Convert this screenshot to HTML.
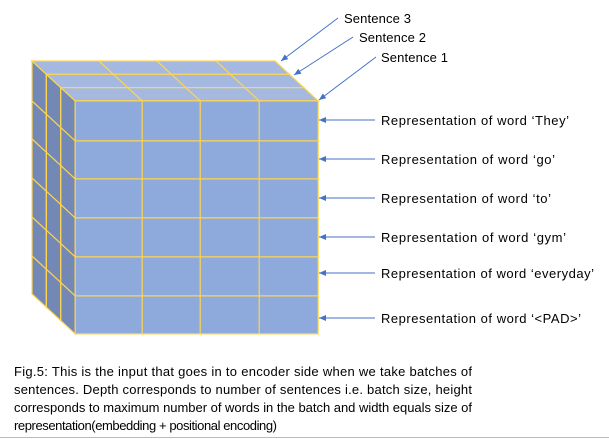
<!DOCTYPE html>
<html><head><meta charset="utf-8"><style>
html,body{margin:0;padding:0;background:#fff;}
svg{display:block;font-family:"Liberation Sans",sans-serif;}
</style></head><body>
<svg id="fig" width="609" height="439" viewBox="0 0 609 439">
<defs><marker id="ah" markerWidth="8" markerHeight="8" refX="7" refY="4" orient="auto" markerUnits="userSpaceOnUse"><path d="M0,1 L7,4 L0,7 z" fill="#4472C4"/></marker></defs>
<g id="cube"></g>
<g id="arrows"></g>
<g font-size="13" fill="#000">
<text x="344" y="23" textLength="67">Sentence 3</text>
<text x="359" y="42" textLength="67">Sentence 2</text>
<text x="381" y="62" textLength="67">Sentence 1</text>
<text x="381" y="125" textLength="188">Representation of word ‘They’</text>
<text x="381" y="164" textLength="174">Representation of word ‘go’</text>
<text x="381" y="203" textLength="170">Representation of word ‘to’</text>
<text x="381" y="242" textLength="185">Representation of word ‘gym’</text>
<text x="381" y="278" textLength="213">Representation of word ‘everyday’</text>
<text x="381" y="323" textLength="200">Representation of word ‘&lt;PAD&gt;’</text>
</g>
<g font-size="13" fill="#000">
<text x="14" y="376" textLength="458" lengthAdjust="spacing">Fig.5: This is the input that goes in to encoder side when we take batches of</text>
<text x="14" y="394" textLength="458" lengthAdjust="spacing">sentences. Depth corresponds to number of sentences i.e. batch size, height</text>
<text x="14" y="412" textLength="458" lengthAdjust="spacing">corresponds to maximum number of words in the batch and width equals size of</text>
<text x="14" y="430" textLength="263">representation(embedding + positional encoding)</text>
</g>
<line x1="0" y1="437.5" x2="609" y2="437.5" stroke="#bbb" stroke-width="1"/>
</svg>
<script>
const NS="http://www.w3.org/2000/svg";
const cube=document.getElementById('cube');
function el(t,a,p){const e=document.createElementNS(NS,t);for(const k in a)e.setAttribute(k,a[k]);p.appendChild(e);return e;}
const Y='#FFD54F';
const cols=[0,67,125,184,243];
const rows=[0,40,78,117,156,195,233];
for(let i=0;i<3;i++){
  const bx=32+14.4*i, by=61+13.3*i;
  const fx=bx+14.4, fy=by+13.3;
  const W=243, H=233;
  const g=el('g',{},cube);
  
  
  el('polygon',{points:`${bx},${by} ${fx},${fy} ${fx},${fy+H} ${bx},${by+H}`,fill:'#7388B5',stroke:Y,'stroke-width':1.2},g);
  el('polygon',{points:`${bx},${by} ${bx+W},${by} ${fx+W},${fy} ${fx},${fy}`,fill:'#A5B8E0',stroke:Y,'stroke-width':1.2},g);
  for(const c of cols.slice(1,4)) el('line',{x1:bx+c,y1:by,x2:fx+c,y2:fy,stroke:Y,'stroke-width':1.2},g);
  for(const r of rows.slice(1,6)) el('line',{x1:bx,y1:by+r,x2:fx,y2:fy+r,stroke:Y,'stroke-width':1.2},g);
  el('rect',{x:fx,y:fy,width:W,height:H,fill:'#8EA9DB',stroke:Y,'stroke-width':1.2},g);
  for(const c of cols.slice(1,4)) el('line',{x1:fx+c,y1:fy,x2:fx+c,y2:fy+H,stroke:Y,'stroke-width':1.2},g);
  for(const r of rows.slice(1,6)) el('line',{x1:fx,y1:fy+r,x2:fx+W,y2:fy+r,stroke:Y,'stroke-width':1.2},g);
}
const ar=document.getElementById('arrows');
const sent=[[338,18,281,61],[353,37,294,75],[376,57,319,100]];
sent.forEach((s,i)=>{const l=el('line',{x1:s[0],y1:s[1],x2:s[2],y2:s[3],stroke:'#4472C4','stroke-width':1,'marker-end':'url(#ah)'},ar);

});
[120,159,198,237,273,318].forEach((y,i)=>{const l=el('line',{x1:375,y1:y,x2:319,y2:y,stroke:'#4472C4','stroke-width':1,'marker-end':'url(#ah)'},ar);

});
</script>
</body></html>
